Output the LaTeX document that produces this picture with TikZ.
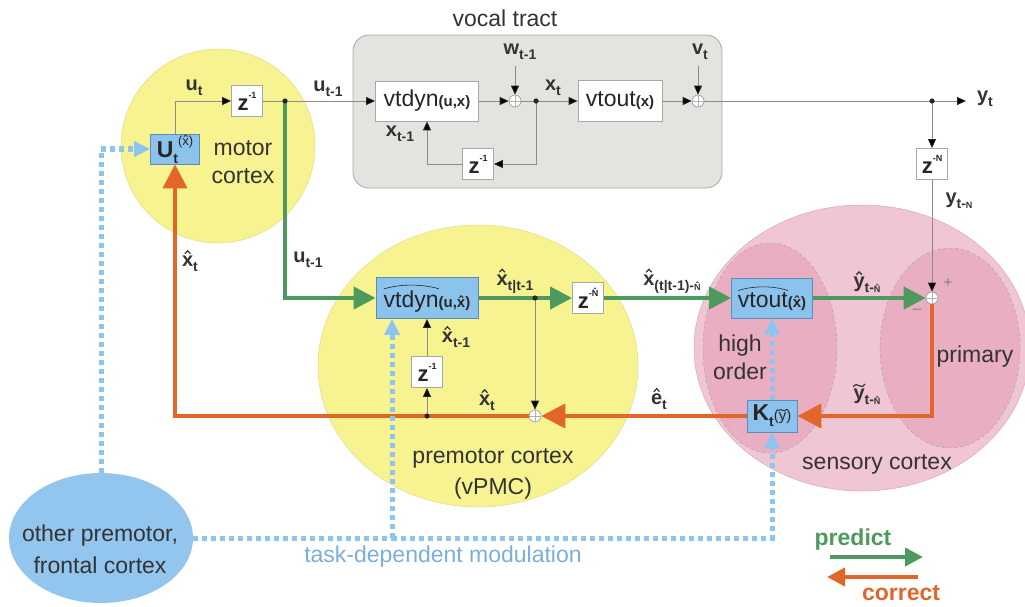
\documentclass[tikz,border=0pt]{standalone}
\usepackage{fontspec}
\setmainfont{Liberation Sans}
\usetikzlibrary{arrows.meta,shapes.geometric}
\definecolor{yel}{HTML}{F8F391}
\definecolor{yelb}{HTML}{E3DC80}
\definecolor{pinko}{HTML}{F0C6D3}
\definecolor{pinkb}{HTML}{D9A9B8}
\definecolor{pinki}{HTML}{E9AEC1}
\definecolor{grayf}{HTML}{E3E3DF}
\definecolor{grayb}{HTML}{A8A8A8}
\definecolor{bfill}{HTML}{8CC3EC}
\definecolor{bbord}{HTML}{5B8DB8}
\definecolor{bell}{HTML}{93C6EF}
\definecolor{dotc}{HTML}{8DC4F0}
\definecolor{gc}{HTML}{4E9A5E}
\definecolor{oc}{HTML}{E2652A}
\definecolor{modc}{HTML}{7AAEDD}
\definecolor{txtc}{HTML}{333333}
\definecolor{linec}{HTML}{8A8A8A}
\newsavebox\hb
\newcommand\hatm[1]{\sbox\hb{#1}\makebox[0pt][l]{\makebox[\wd\hb]{\raisebox{\dimexpr\ht\hb+0.09em\relax}{\tikz\draw[line width=0.06em,line join=miter] (0,0)--(0.14em,0.15em)--(0.28em,0);}}}\usebox\hb}
\newcommand\tildm[1]{\sbox\hb{#1}\makebox[0pt][l]{\makebox[\wd\hb]{\raisebox{\dimexpr\ht\hb+0.08em\relax}{\tikz\draw[line width=0.06em] (0,0.02em) .. controls (0.12em,0.18em) and (0.2em,0.12em) .. (0.3em,0.07em) .. controls (0.4em,0.02em) and (0.48em,0) .. (0.58em,0.16em);}}}\usebox\hb}
\newcommand\wideh[1]{\sbox\hb{#1}\makebox[0pt][l]{\raisebox{\dimexpr\ht\hb+0.08em\relax}{\tikz\draw[line width=0.6pt] (0,0) .. controls (0.3\wd\hb,5pt) and (0.7\wd\hb,5pt) .. (\wd\hb,0);}}\usebox\hb}
\newcommand\lsub[1]{\raisebox{-0.25em}{\fontsize{14}{14}\selectfont#1}}
\newcommand\lsup[1]{\raisebox{0.55em}{\fontsize{9}{9}\selectfont#1}}
\newcommand\tinyN[1]{{\fontsize{9}{9}\selectfont#1}}
\begin{document}
\begin{tikzpicture}[x=1pt,y=-1pt,
  lab/.style={font=\fontsize{20}{22}\selectfont\bfseries, text=txtc, inner sep=0pt},
  txt/.style={font=\fontsize{23}{28}\selectfont, text=txtc, align=center, inner sep=0pt},
  zbox/.style={draw=grayb, fill=white, line width=0.8pt, minimum width=31pt, minimum height=31pt, inner sep=0pt, font=\fontsize{22}{22}\selectfont\bfseries, text=black!85},
  wbox/.style={draw=grayb, fill=white, line width=0.8pt, inner sep=0pt, text=black!85, font=\fontsize{23}{23}\selectfont},
  bbox/.style={draw=bbord, fill=bfill, line width=0.8pt, inner sep=0pt, text=black!85, font=\fontsize{23}{23}\selectfont},
  sumc/.style={circle, draw=gray!80, fill=white, minimum size=12pt, inner sep=0pt, line width=0.6pt,
    path picture={\draw[gray!60, line width=0.5pt] (path picture bounding box.north) -- (path picture bounding box.south) (path picture bounding box.west) -- (path picture bounding box.east);}},
  thinl/.style={draw=linec, line width=0.8pt, -{Triangle[length=9pt,width=8pt,color=black!85]}},
  thinp/.style={draw=linec, line width=0.8pt},
  gthick/.style={draw=gc, line width=4pt, -{Triangle[length=22pt,width=22pt]}},
  othick/.style={draw=oc, line width=4pt, -{Triangle[length=24pt,width=24pt]}},
  bdot/.style={draw=dotc, line width=5pt, dash pattern=on 5pt off 4pt, -{Triangle[length=16pt,width=15pt]}},
  bdotp/.style={draw=dotc, line width=5pt, dash pattern=on 5pt off 4pt}
]
\useasboundingbox (0,0) rectangle (1025,607);
% regions
\fill[yel, draw=yelb, line width=0.5pt] (218,146) circle (97pt);
\fill[yel, draw=yelb, line width=0.5pt] (478,366) ellipse [x radius=160pt, y radius=141pt];
\fill[pinko, draw=pinkb, line width=0.5pt] (862,348) ellipse [x radius=168pt, y radius=143pt];
\fill[pinki, draw=gray!70, dashed, line width=0.5pt] (770,348) ellipse [x radius=67pt, y radius=105pt];
\fill[pinki, draw=gray!70, dashed, line width=0.5pt] (950,348) ellipse [x radius=70pt, y radius=100pt];
\draw[fill=grayf, draw=grayb, rounded corners=16pt, line width=0.8pt] (353,35) rectangle (722,188);
\node[ellipse, fill=bell, minimum width=184pt, minimum height=130pt, inner sep=0pt] (oth) at (101,538) {};

% region texts
\node[txt] (vtlab) at (505,18) {vocal tract};
\node[txt] (mctxt) at (243,162) {motor\\cortex};
\node[txt, font=\fontsize{23}{31}\selectfont] (pmtxt) at (493,474) {premotor cortex\\(vPMC)};
\node[txt] (hotxt) at (740,357) {high\\order};
\node[txt] (prtxt) at (975,357) {primary};
\node[txt] (sctxt) at (877,464) {sensory cortex};
\node[txt, font=\fontsize{23}{32}\selectfont] (othtxt) at (100,549) {other premotor,\\frontal cortex};
\node[txt, text=modc] (modtxt) at (443,557) {task-dependent modulation};

% blocks
\node[bbox, minimum width=49pt, minimum height=30pt] (ut) at (175,149) {{\bfseries U\lsub{t}}\lsup{\fontsize{13}{13}\selectfont(\hatm{x})}};
\node[zbox] (z1) at (247,101) {z\lsup{-1}};
\node[wbox, minimum width=103pt, minimum height=40pt] (vtdyn) at (427,101) {vtdyn{\fontsize{15}{15}\selectfont\bfseries(u,x)}};
\node[sumc] (s1) at (515,101) {};
\node[wbox, minimum width=84pt, minimum height=41pt] (vtout) at (620,101) {vtout{\fontsize{15}{15}\selectfont\bfseries(x)}};
\node[sumc] (s2) at (698,101) {};
\node[zbox] (z2) at (478,164) {z\lsup{-1}};
\node[zbox] (z3) at (932,164) {z\lsup{-N}};
\node[bbox, minimum width=102pt, minimum height=41pt] (vtdh) at (427,298) {\wideh{vtdyn}{\fontsize{15}{15}\selectfont\bfseries(u,\hatm{x})}};
\node[zbox] (zN) at (588,298) {z\lsup{-\hatm{N}}};
\node[bbox, minimum width=81pt, minimum height=40pt] (vtouth) at (772,298) {\wideh{vtout}{\fontsize{15}{15}\selectfont\bfseries(\hatm{x})}};
\node[sumc] (s3) at (932,298) {};
\node[zbox] (z4) at (427,372) {z\lsup{-1}};
\node[bbox, minimum width=50pt, minimum height=32pt] (ky) at (772,416) {{\bfseries K\lsub{t}}{\fontsize{15}{15}\selectfont(\tildm{y})}};
\node[sumc] (s4) at (535,416) {};

% junctions and free ends
\coordinate (d1) at (285,101);
\coordinate (d2) at (536,101);
\coordinate (d3) at (932,101);
\coordinate (d4) at (535,298);
\coordinate (d5) at (427,416);
\coordinate (w0) at (515,66);
\coordinate (v0) at (698,66);
\coordinate (yend) at (966,101);
\coordinate (bl1) at (392,538);
\coordinate (lg1) at (830,557);
\coordinate (lg2) at (923,557);
\coordinate (lo1) at (918,577);
\coordinate (lo2) at (827,577);

% thin signal lines
\draw[thinl] (ut.north) |- (z1.west);
\draw[thinp] (z1.east) -- (d1);
\draw[thinl] (d1) -- (vtdyn.west);
\draw[thinl] (vtdyn.east) -- (s1.west);
\draw[thinl] (w0) -- (s1.north);
\draw[thinp] (s1.east) -- (d2);
\draw[thinl] (d2) -- (vtout.west);
\draw[thinl] (d2) |- (z2.east);
\draw[thinl] (z2.west) -| (vtdyn.south);
\draw[thinl] (vtout.east) -- (s2.west);
\draw[thinl] (v0) -- (s2.north);
\draw[thinp] (s2.east) -- (d3);
\draw[thinl] (d3) -- (yend);
\draw[thinl] (d3) -- (z3.north);
\draw[thinl] (z3.south) -- (s3.north);

% predict (green)
\draw[gthick] (d1) |- (vtdh.west);
\draw[gthick] (vtdh.east) -- (zN.west);
\draw[gthick] (zN.east) -- (vtouth.west);
\draw[gthick] (vtouth.east) -- (s3.west);

% correct (orange)
\draw[othick] (s3.south) |- (ky.east);
\draw[othick] (ky.west) -- (s4.east);
\draw[othick] (s4.west) -| (ut.south);

% inner thin lines of premotor
\draw[thinl] (d4) -- (s4.north);
\draw[thinl] (d5) -- (z4.south);
\draw[thinl] (z4.north) -- (vtdh.south);

% modulation (blue dotted)
\draw[bdot] (oth.north) |- (ut.west);
\draw[bdotp] (oth.east) -- (bl1);
\draw[bdot] (bl1) -| (ky.south);
\draw[bdot] (bl1) -- (bl1 |- vtdh.south);
\draw[bdot] (ky.north) -- (vtouth.south);

% dots
\foreach \c in {d1,d2,d3,d4,d5} \fill[black!85] (\c) circle (2.6pt);

% signal labels
\node[lab] (lut) at (194,88) {u\lsub{t}};
\node[lab] (lut1) at (328,89) {u\lsub{t-1}};
\node[lab] (lw) at (520,52) {w\lsub{t-1}};
\node[lab] (lxt) at (553,88) {x\lsub{t}};
\node[lab] (lxt1) at (400,134) {x\lsub{t-1}};
\node[lab] (lvt) at (700,52) {v\lsub{t}};
\node[lab] (lyt) at (985,99) {y\lsub{t}};
\node[lab] (lytn) at (959,201) {y\lsub{t-\tinyN{N}}};
\node[lab] (lut1b) at (308,260) {u\lsub{t-1}};
\node[lab] (lxh) at (190,261) {\hatm{x}\lsub{t}};
\node[lab] (lxpred) at (515,281) {\hatm{x}\lsub{t|t-1}};
\node[lab] (lxpn) at (672,281) {\hatm{x}\lsub{(t|t-1)-\tinyN{\hatm{N}}}};
\node[lab] (lxh1) at (456,337) {\hatm{x}\lsub{t-1}};
\node[lab] (lxh2) at (487,400) {\hatm{x}\lsub{t}};
\node[lab] (let) at (659,399) {\hatm{e}\lsub{t}};
\node[lab] (lyh) at (867,282) {\hatm{y}\lsub{t-\tinyN{\hatm{N}}}};
\node[lab] (lyti) at (867,394) {\tildm{y}\lsub{t-\tinyN{\hatm{N}}}};
\node[font=\fontsize{15}{15}\selectfont, text=gray, inner sep=0pt] (plus) at (948,283) {+};
\node[font=\fontsize{15}{15}\selectfont, text=gray, inner sep=0pt] (minus) at (917,311) {\textendash};

% legend
\node[font=\fontsize{23}{23}\selectfont\bfseries, text=gc, inner sep=0pt] (pred) at (853,540) {predict};
\draw[gc, line width=4pt, -{Triangle[length=18pt,width=18pt]}] (lg1) -- (lg2);
\draw[oc, line width=4pt, -{Triangle[length=18pt,width=18pt]}] (lo1) -- (lo2);
\node[font=\fontsize{23}{23}\selectfont\bfseries, text=oc, inner sep=0pt] (corr) at (901,593) {correct};
\end{tikzpicture}
\end{document}
